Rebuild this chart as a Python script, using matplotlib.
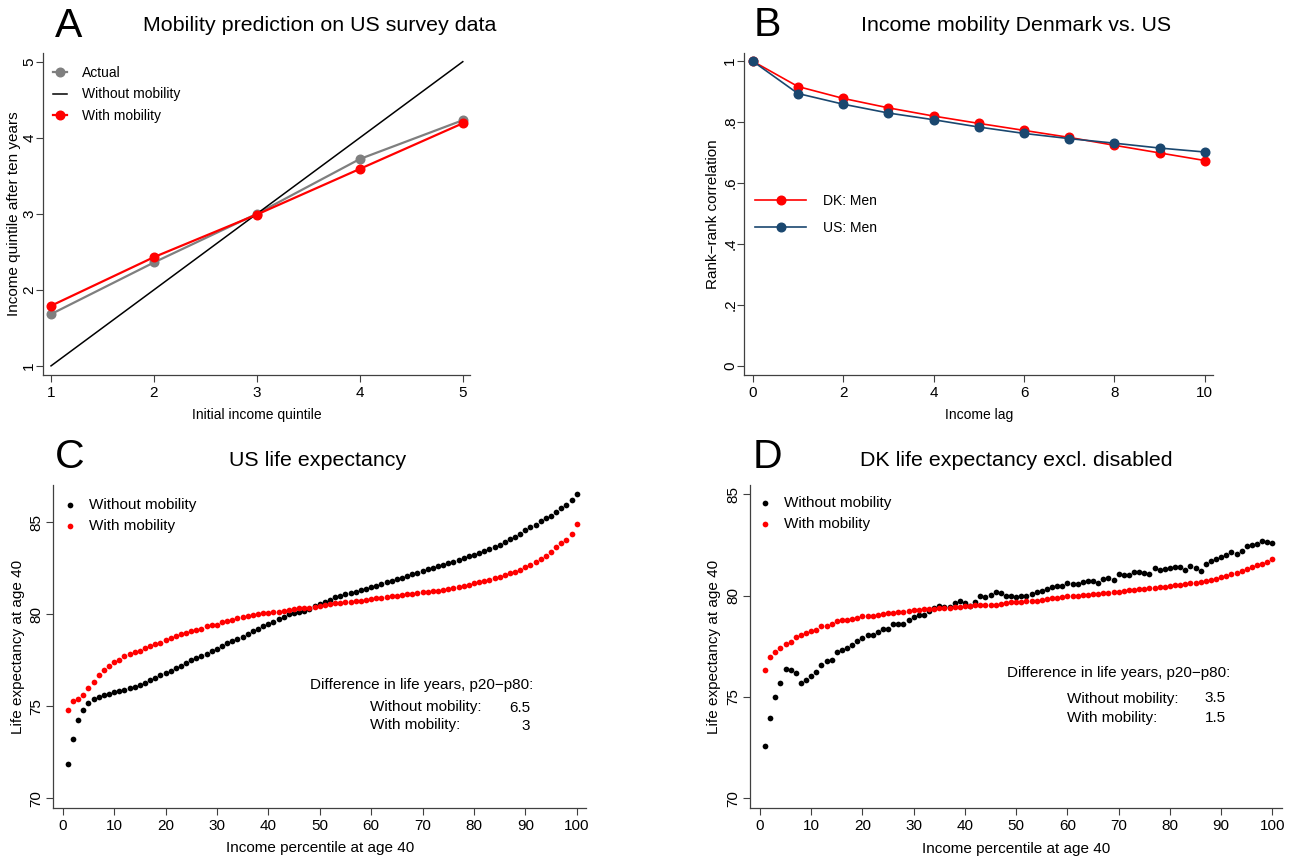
import numpy as np
import matplotlib
matplotlib.use("Agg")
import matplotlib.pyplot as plt

plt.rcParams['font.family'] = ['Liberation Sans', 'DejaVu Sans']

# Panel A: quintile transitions
quintiles = [1, 2, 3, 4, 5]
actual_q = [1.68, 2.36, 3.00, 3.72, 4.23]
without_mob_q = [1, 2, 3, 4, 5]
with_mob_q = [1.79, 2.43, 2.99, 3.59, 4.19]

# Panel B: rank-rank correlation by lag
lags = [0, 1, 2, 3, 4, 5, 6, 7, 8, 9, 10]
dk_men = [1.0, 0.917, 0.878, 0.847, 0.820, 0.796, 0.773, 0.750, 0.724, 0.699, 0.674]
us_men = [1.0, 0.894, 0.859, 0.830, 0.808, 0.784, 0.763, 0.746, 0.731, 0.715, 0.702]

percentiles = np.arange(1, 101)

# Panel C: US life expectancy at 40 by income percentile
us_without = [
    71.85, 73.22, 74.22, 74.80, 75.15, 75.38, 75.52, 75.58, 75.67, 75.76,
    75.82, 75.89, 75.96, 76.05, 76.16, 76.27, 76.40, 76.54, 76.68, 76.81,
    76.92, 77.07, 77.19, 77.34, 77.48, 77.59, 77.72, 77.84, 77.99, 78.12,
    78.28, 78.41, 78.52, 78.66, 78.77, 78.93, 79.08, 79.18, 79.33, 79.46,
    79.58, 79.71, 79.85, 79.98, 80.07, 80.10, 80.19, 80.30, 80.42, 80.53,
    80.65, 80.76, 80.91, 80.99, 81.07, 81.14, 81.21, 81.30, 81.38, 81.45,
    81.54, 81.65, 81.74, 81.81, 81.90, 81.99, 82.08, 82.17, 82.23, 82.34,
    82.45, 82.52, 82.59, 82.68, 82.77, 82.86, 82.93, 83.03, 83.14, 83.22,
    83.32, 83.42, 83.53, 83.64, 83.75, 83.91, 84.06, 84.20, 84.38, 84.55,
    84.71, 84.87, 85.07, 85.22, 85.34, 85.56, 85.75, 85.95, 86.20, 86.55,
]
us_with = [
    74.77, 75.29, 75.36, 75.63, 75.96, 76.32, 76.67, 76.94, 77.16, 77.38,
    77.50, 77.72, 77.84, 77.95, 78.01, 78.15, 78.28, 78.39, 78.44, 78.61,
    78.70, 78.80, 78.90, 78.98, 79.06, 79.15, 79.20, 79.33, 79.40, 79.42,
    79.58, 79.62, 79.69, 79.78, 79.82, 79.89, 79.96, 80.00, 80.04, 80.05,
    80.09, 80.13, 80.18, 80.23, 80.29, 80.31, 80.34, 80.36, 80.40, 80.43,
    80.49, 80.54, 80.58, 80.61, 80.64, 80.67, 80.70, 80.74, 80.78, 80.82,
    80.85, 80.89, 80.92, 80.96, 81.00, 81.05, 81.08, 81.12, 81.15, 81.18,
    81.21, 81.25, 81.28, 81.32, 81.36, 81.41, 81.46, 81.52, 81.59, 81.67,
    81.74, 81.81, 81.87, 81.94, 82.03, 82.12, 82.21, 82.30, 82.42, 82.54,
    82.69, 82.84, 82.99, 83.15, 83.38, 83.66, 83.85, 84.05, 84.35, 84.90,
]

# Panel D: DK life expectancy at 40, disabled excluded
dk_without = [
    72.58, 73.96, 74.98, 75.69, 76.39, 76.31, 76.17, 75.67, 75.84, 76.02,
    76.22, 76.58, 76.79, 76.81, 77.20, 77.30, 77.40, 77.55, 77.78, 77.91,
    78.06, 78.04, 78.19, 78.34, 78.34, 78.60, 78.60, 78.62, 78.81, 78.96,
    79.03, 79.03, 79.24, 79.39, 79.50, 79.44, 79.46, 79.62, 79.72, 79.62,
    79.49, 79.67, 79.97, 79.92, 80.02, 80.16, 80.11, 79.98, 79.97, 79.92,
    79.97, 79.98, 80.08, 80.16, 80.21, 80.34, 80.44, 80.47, 80.47, 80.62,
    80.56, 80.56, 80.67, 80.71, 80.72, 80.64, 80.80, 80.88, 80.75, 81.05,
    81.03, 81.03, 81.16, 81.18, 81.11, 81.08, 81.35, 81.25, 81.31, 81.38,
    81.41, 81.43, 81.26, 81.48, 81.36, 81.23, 81.56, 81.72, 81.80, 81.90,
    82.02, 82.14, 82.07, 82.21, 82.45, 82.49, 82.55, 82.71, 82.63, 82.60,
]
dk_with = [
    76.31, 76.96, 77.20, 77.41, 77.61, 77.71, 77.94, 78.04, 78.17, 78.25,
    78.30, 78.50, 78.52, 78.58, 78.73, 78.80, 78.80, 78.86, 78.91, 78.98,
    78.98, 79.01, 79.06, 79.09, 79.13, 79.16, 79.17, 79.20, 79.24, 79.29,
    79.30, 79.32, 79.35, 79.36, 79.39, 79.40, 79.40, 79.44, 79.46, 79.49,
    79.49, 79.52, 79.53, 79.55, 79.55, 79.56, 79.60, 79.65, 79.66, 79.68,
    79.70, 79.71, 79.73, 79.75, 79.80, 79.85, 79.88, 79.90, 79.94, 79.97,
    79.98, 79.99, 80.02, 80.05, 80.08, 80.10, 80.12, 80.14, 80.17, 80.19,
    80.22, 80.26, 80.28, 80.31, 80.33, 80.36, 80.38, 80.41, 80.44, 80.47,
    80.50, 80.54, 80.57, 80.61, 80.64, 80.67, 80.72, 80.77, 80.83, 80.90,
    80.97, 81.05, 81.12, 81.20, 81.30, 81.40, 81.50, 81.57, 81.67, 81.82,
]

W, H = 1292, 861
fig = plt.figure(figsize=(W / 100, H / 100), dpi=100)

AXIS_COL = '#404040'
NAVY = '#1a476f'
GRAY = '#7f7f7f'


def px_axes(left, top, right, bottom):
    ax = fig.add_axes([left / W, 1 - bottom / H, (right - left) / W, (bottom - top) / H])
    ax._px = (left, top, right, bottom)
    return ax


def stata_style(ax, xsize=11, ypad=2):
    for s in ('top', 'right'):
        ax.spines[s].set_visible(False)
    for s in ('left', 'bottom'):
        ax.spines[s].set_color(AXIS_COL)
        ax.spines[s].set_linewidth(0.9)
    ax.tick_params(direction='out', length=5, width=0.8, color=AXIS_COL,
                   labelsize=11, pad=3)
    ax.tick_params(axis='x', labelsize=xsize)
    ax.tick_params(axis='y', labelrotation=90, pad=ypad)
    plt.setp(ax.get_yticklabels(), va='center')


def place_ylabel(ax, text, right_px):
    left, top, right, bottom = ax._px
    ax.set_ylabel(text, fontsize=11)
    ax.yaxis.set_label_coords((right_px - left) / (right - left), 0.5)


def panel_head(ax, letter, title, letter_px, title_px, letter_base, title_base):
    left, top, right, bottom = ax._px
    fx = lambda px: (px - left) / (right - left)
    fy = lambda py: 1 + (top - py) / (bottom - top)
    ax.text(fx(letter_px), fy(letter_base), letter, transform=ax.transAxes,
            fontsize=29.5, ha='center', va='baseline')
    ax.text(fx(title_px), fy(title_base), title, transform=ax.transAxes,
            fontsize=15.4, ha='center', va='baseline')


def note(ax, x_px, y_px, s, ha='left'):
    left, top, right, bottom = ax._px
    ax.text((x_px - left) / (right - left), (bottom - y_px) / (bottom - top), s,
            transform=ax.transAxes, fontsize=11, ha=ha, va='center')


# ---- A ----
axA = px_axes(43.3, 53.3, 470, 375)
axA.plot(quintiles, actual_q, color=GRAY, lw=1.6, marker='o', ms=6.2,
         label='Actual')
axA.plot(quintiles, without_mob_q, color='black', lw=1.1,
         label='Without mobility')
axA.plot(quintiles, with_mob_q, color='red', lw=1.6, marker='o', ms=6.2,
         label='With mobility')
axA.set_xlim(0.925, 5.07)
axA.set_ylim(0.88, 5.11)
axA.set_xticks([1, 2, 3, 4, 5])
axA.set_yticks([1, 2, 3, 4, 5])
axA.set_xlabel('Initial income quintile', fontsize=10, labelpad=6)
place_ylabel(axA, 'Income quintile after ten years', 21)
stata_style(axA, xsize=11, ypad=0)
axA.legend(loc='upper left', bbox_to_anchor=(0.0, 0.99), frameon=False,
           fontsize=10, handlelength=1.0, handletextpad=1.08,
           labelspacing=0.52, borderpad=0, borderaxespad=0.7)
panel_head(axA, 'A', 'Mobility prediction on US survey data', 69, 320, 37, 31)

# ---- B ----
axB = px_axes(744.3, 52.7, 1213, 375)
axB.plot(lags, dk_men, color='red', lw=1.2, marker='o', ms=6.2,
         label='DK: Men')
axB.plot(lags, us_men, color=NAVY, lw=1.2, marker='o', ms=6.2,
         label='US: Men')
axB.set_xlim(-0.186, 10.18)
axB.set_ylim(-0.03, 1.028)
axB.set_xticks([0, 2, 4, 6, 8, 10])
axB.set_yticks([0, 0.2, 0.4, 0.6, 0.8, 1.0])
axB.set_yticklabels(['0', '.2', '.4', '.6', '.8', '1'])
axB.set_xlabel('Income lag', fontsize=10, labelpad=6)
place_ylabel(axB, 'Rank\u2212rank correlation', 720)
stata_style(axB, ypad=0)
axB.legend(loc='upper left', bbox_to_anchor=(0.0, 0.597), frameon=False,
           fontsize=10, handlelength=3.65, handletextpad=1.2,
           labelspacing=0.95, borderaxespad=0.4)
panel_head(axB, 'B', 'Income mobility Denmark vs. US', 767, 1016, 36, 31)

# ---- C ----
axC = px_axes(53.3, 485, 586, 808)
axC.scatter(percentiles, us_without, s=17, color='black', lw=0,
            label='Without mobility')
axC.scatter(percentiles, us_with, s=17, color='red', lw=0,
            label='With mobility')
axC.set_xlim(-1.83, 101.8)
axC.set_ylim(69.46, 87.02)
axC.set_xticks(np.arange(0, 101, 10))
axC.set_yticks([70, 75, 80, 85])
axC.set_xlabel('Income percentile at age 40', fontsize=11, labelpad=6)
place_ylabel(axC, 'Life expectancy at age 40', 25)
stata_style(axC)
axC.legend(loc='upper left', bbox_to_anchor=(0.0, 0.989), frameon=False,
           fontsize=11, handlelength=1.0, handletextpad=0.75,
           labelspacing=0.45, borderaxespad=0.2, scatterpoints=1)
panel_head(axC, 'C', 'US life expectancy', 70, 318, 468, 466)
note(axC, 310, 685, 'Difference in life years, p20\u2212p80:')
note(axC, 370, 707.5, 'Without mobility:')
note(axC, 370, 725.5, 'With mobility:')
note(axC, 530, 707.5, '6.5', ha='right')
note(axC, 530, 725.5, '3', ha='right')

# ---- D ----
axD = px_axes(750, 485, 1281.7, 808.3)
axD.scatter(percentiles, dk_without, s=17, color='black', lw=0,
            label='Without mobility')
axD.scatter(percentiles, dk_with, s=17, color='red', lw=0,
            label='With mobility')
axD.set_xlim(-1.95, 101.8)
axD.set_ylim(69.5, 85.46)
axD.set_xticks(np.arange(0, 101, 10))
axD.set_yticks([70, 75, 80, 85])
axD.set_xlabel('Income percentile at age 40', fontsize=11, labelpad=6)
place_ylabel(axD, 'Life expectancy at age 40', 721)
stata_style(axD)
axD.legend(loc='upper left', bbox_to_anchor=(0.0, 0.989), frameon=False,
           fontsize=11, handlelength=1.0, handletextpad=0.75,
           labelspacing=0.45, borderaxespad=0.1, scatterpoints=1)
panel_head(axD, 'D', 'DK life expectancy excl. disabled', 767.5, 1016, 468, 466)
note(axD, 1007, 673.5, 'Difference in life years, p20\u2212p80:')
note(axD, 1067, 698.5, 'Without mobility:')
note(axD, 1067, 718, 'With mobility:')
note(axD, 1226, 698.5, '3.5', ha='right')
note(axD, 1226, 718, '1.5', ha='right')

fig.savefig('out.png', dpi=100, facecolor='white')
